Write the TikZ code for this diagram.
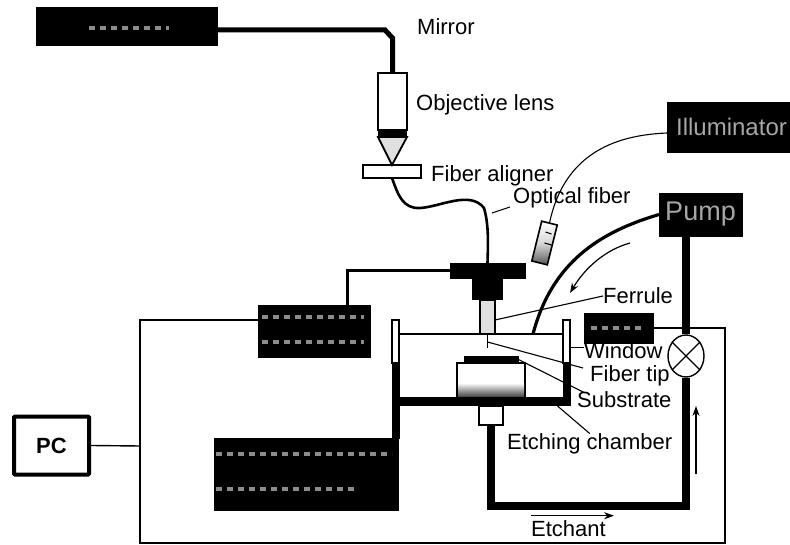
\documentclass[tikz,border=0pt]{standalone}
\usepackage{fontspec}
\setmainfont{Liberation Sans}
\usepackage{tikz}
\usetikzlibrary{arrows.meta,positioning,calc,shapes.geometric}
\tikzset{
  caja/.style     = {rectangle, fill=black, draw=black, text=black!35, inner sep=0pt, outer sep=0pt,
                     font=\fontsize{24}{26}\selectfont},
  pieza/.style    = {rectangle, draw=black, fill=white, line width=1.6pt, inner sep=0pt, outer sep=0pt},
  solido/.style   = {rectangle, fill=black, inner sep=0pt, outer sep=0pt},
  rotulo/.style   = {anchor=west, inner sep=0pt, font=\fontsize{22}{24}\selectfont},
  tubo/.style     = {line width=8pt},
  guia/.style     = {line width=1.1pt},
  marco/.style    = {line width=1.4pt},
  mancha/.style   = {line width=4pt, draw=black!45, dash pattern=on 6pt off 5pt},
  flecha/.style   = {-{Stealth[length=3.5mm,width=2.5mm]}, line width=1.2pt},
}
\begin{document}
\begin{tikzpicture}[x=1pt,y=-1pt]
    \useasboundingbox (0,0) rectangle (790,545);

    % --- cajas
    \node[caja, minimum width=181pt, minimum height=38pt] (laser) at (126.5,26) {};
    \node[caja, minimum width=123pt, minimum height=50pt] (illum) at (728.5,127) {\hspace{6pt}Illuminator};
    \node[caja, minimum width=83pt, minimum height=43pt, font=\fontsize{27}{29}\selectfont] (pump) at (700.5,214.5) {Pump};
    \node[caja, minimum width=112pt, minimum height=52pt] (ctrl) at (314,331) {};
    \node[caja, minimum width=69pt, minimum height=30pt] (fuente) at (618.5,328) {};
    \node[caja, minimum width=184pt, minimum height=72pt] (scan) at (306,474) {};
    \node[draw, line width=4pt, rounded corners=1pt, minimum width=75pt, minimum height=58pt,
          font=\bfseries\fontsize{22}{24}\selectfont] (pc) at (51.5,445.5) {PC};

    \draw[mancha] (laser.center) +(-38,2) -- +(42,2);
    \draw[mancha] (ctrl.center) +(-52,-14) -- +(50,-14);
    \draw[mancha] (ctrl.center) +(-52,11) -- +(50,11);
    \draw[mancha] (fuente.center) +(-28,0) -- +(27,0);
    \draw[mancha] (scan.center) +(-90,-20) -- +(86,-20);
    \draw[mancha] (scan.center) +(-90,15) -- +(50,15);

    % --- objetivo
    \node[pieza, minimum width=29pt, minimum height=57pt] (objetivo) at (392.5,101.5) {};
    \node[solido, minimum width=29pt, minimum height=7pt, below=0pt of objetivo] (banda) {};
    \node[pieza, minimum width=58pt, minimum height=13pt] (alineador) at (392,171.5) {};
    \draw[line width=1.8pt, fill=black!12] (banda.south west) -- (banda.south east)
      -- (alineador.north) -- cycle;

    % --- bloque T y ferrula
    \node[solido, minimum width=76pt, minimum height=16pt] (tbarra) at (487.5,271) {};
    \node[solido, minimum width=31pt, minimum height=21pt, below=0pt of tbarra] (tcuello) {};
    \node[pieza, fill=black!12, minimum width=15pt, minimum height=34pt, below=0pt of tcuello] (ferrula) {};
    \coordinate (punta) at (487.5,348);

    % --- lampara
    \node[pieza, rotate=-14, top color=white, bottom color=black!65, middle color=white!85!black,
          minimum width=16pt, minimum height=41pt] (lampara) at (544.5,243) {};
    \draw[guia] (lampara.center) -- ++(7,2);
    \draw[guia] (lampara.center) ++(1,-11) -- ++(6,2);

    % --- valvula y rotulos
    \node[draw, ellipse, fill=white, line width=1.4pt, inner sep=0pt, minimum width=36pt,
          minimum height=42pt] (valvula) at (686,356) {};
    \node[rotulo] (rotEspejo) at (417,27) {Mirror};
    \node[rotulo] (rotObjetivo) at (416,105) {Objective lens};
    \node[rotulo] (rotAlineador) at (431,176) {Fiber aligner};
    \node[rotulo] (rotFibra) at (513,198) {Optical fiber};
    \node[rotulo] (rotFerrula) at (603,296) {Ferrule};
    \node[rotulo] (rotVentana) at (584,351) {Window};
    \node[rotulo] (rotPunta) at (590,376) {Fiber tip};
    \node[rotulo] (rotSustrato) at (577,400) {Substrate};
    \node[rotulo] (rotCamara) at (507,444) {Etching chamber};
    \node[rotulo] (rotEtchant) at (531,529) {Etchant};

    % --- camara
    \node[pieza, minimum width=68pt, minimum height=34pt] (etapa) at (491,380) {};
    \shade[top color=white, bottom color=black!70] ([xshift=1pt,yshift=1pt]etapa.south west)
      rectangle ([xshift=-1pt,yshift=14pt]etapa.south east);
    \node[solido, minimum width=55pt, minimum height=7pt, above=0pt of etapa] (sustrato) {};
    \draw[guia] (sustrato.east) -- ([xshift=8pt,yshift=7pt]rotSustrato.west);
    \node[pieza, minimum width=7pt, minimum height=43pt] (ventizq) at (395.5,341.5) {};
    \node[solido, minimum width=8pt, minimum height=76pt, below=0pt of ventizq] (paredizq) {};
    \node[pieza, minimum width=7pt, minimum height=43pt] (ventder) at (566.5,341.5) {};
    \node[solido, minimum width=8pt, minimum height=43pt, below=0pt of ventder] (paredder) {};
    \node[solido, minimum width=171pt, minimum height=9pt] (suelo) at (485,401.5) {};
    \node[pieza, line width=1.2pt, minimum width=24pt, minimum height=19pt] (conector) at (491,415.5) {};

    % --- tubos y cables
    \coordinate (codoA) at (385,30);
    \coordinate (codoB) at (392.5,38);
    \coordinate (codoC) at (491,506);
    \coordinate (tapa) at (533,334);
    \coordinate (marcoA) at (140,320);
    \coordinate (marcoB) at (140,446);
    \coordinate (marcoC) at (140,543);
    \coordinate (marcoD) at (725,543);
    \draw[line width=5pt] ([yshift=-4pt]laser.east) -- (codoA) -- (codoB) -- (objetivo.north);
    \draw[line width=2.6pt] (alineador.south) .. controls (398,195) and (403,209) .. (420,208)
      .. controls (440,207) and (470,190) .. (484,208)
      .. controls (489,225) and (488,245) .. (tbarra.north);
    \draw[line width=3pt] ([xshift=33pt]ctrl.north) |- (tbarra.west);
    \draw[guia] ([yshift=-6pt]illum.west) .. controls (620,135) and (565,150) .. (lampara.north);
    \draw[line width=3.2pt] (pump.west) .. controls (600,232) and (552,262) .. (tapa);
    \draw[tubo] (valvula.north |- pump.south) -- (valvula.north);
    \draw[tubo] (conector.south) -- (codoC) -| (valvula.south);

    \draw[marco] ([yshift=11pt]ctrl.west) -- (marcoA) -- (marcoC) -- (marcoD) |- (fuente.east);
    \draw[marco] (pc.east) -- (marcoB);
    \draw[marco] (ventizq.east |- ferrula.south) -- (ventder.west |- ferrula.south);
    \draw[marco] (ferrula.south) -- (punta);

    % --- guias de rotulos
    \coordinate (guiaFibra) at (492,213);
    \coordinate (guiaPunta) at (487.5,342);
    \draw[guia] (guiaFibra) -- ([xshift=-3pt,yshift=-9pt]rotFibra.west);
    \draw[guia] ([yshift=-3pt]ferrula.east) -- (rotFerrula.west);
    \draw[guia] ([yshift=-6pt]ventder.east) -- ++(14,0);
    \draw[guia] (guiaPunta) -- ([xshift=-7pt,yshift=8pt]rotPunta.west);
    \draw[guia] ([xshift=-13pt]suelo.south east) -- (rotCamara.north);

    % --- cruz de la valvula
    \draw[line width=1.4pt] (valvula.45) -- (valvula.225);
    \draw[line width=1.4pt] (valvula.135) -- (valvula.315);

    % --- flechas
    \coordinate (bajaA) at (630,243);
    \coordinate (bajaB) at (570,293);
    \coordinate (subeA) at (696,474);
    \coordinate (subeB) at (696,406);
    \draw[flecha] (bajaA) .. controls (605,250) and (585,268) .. (bajaB);
    \draw[flecha] (subeA) -- (subeB);
    \draw[flecha] ([yshift=5pt]rotEtchant.north west) -- ([xshift=8pt,yshift=5pt]rotEtchant.north east);
\end{tikzpicture}
\end{document}
